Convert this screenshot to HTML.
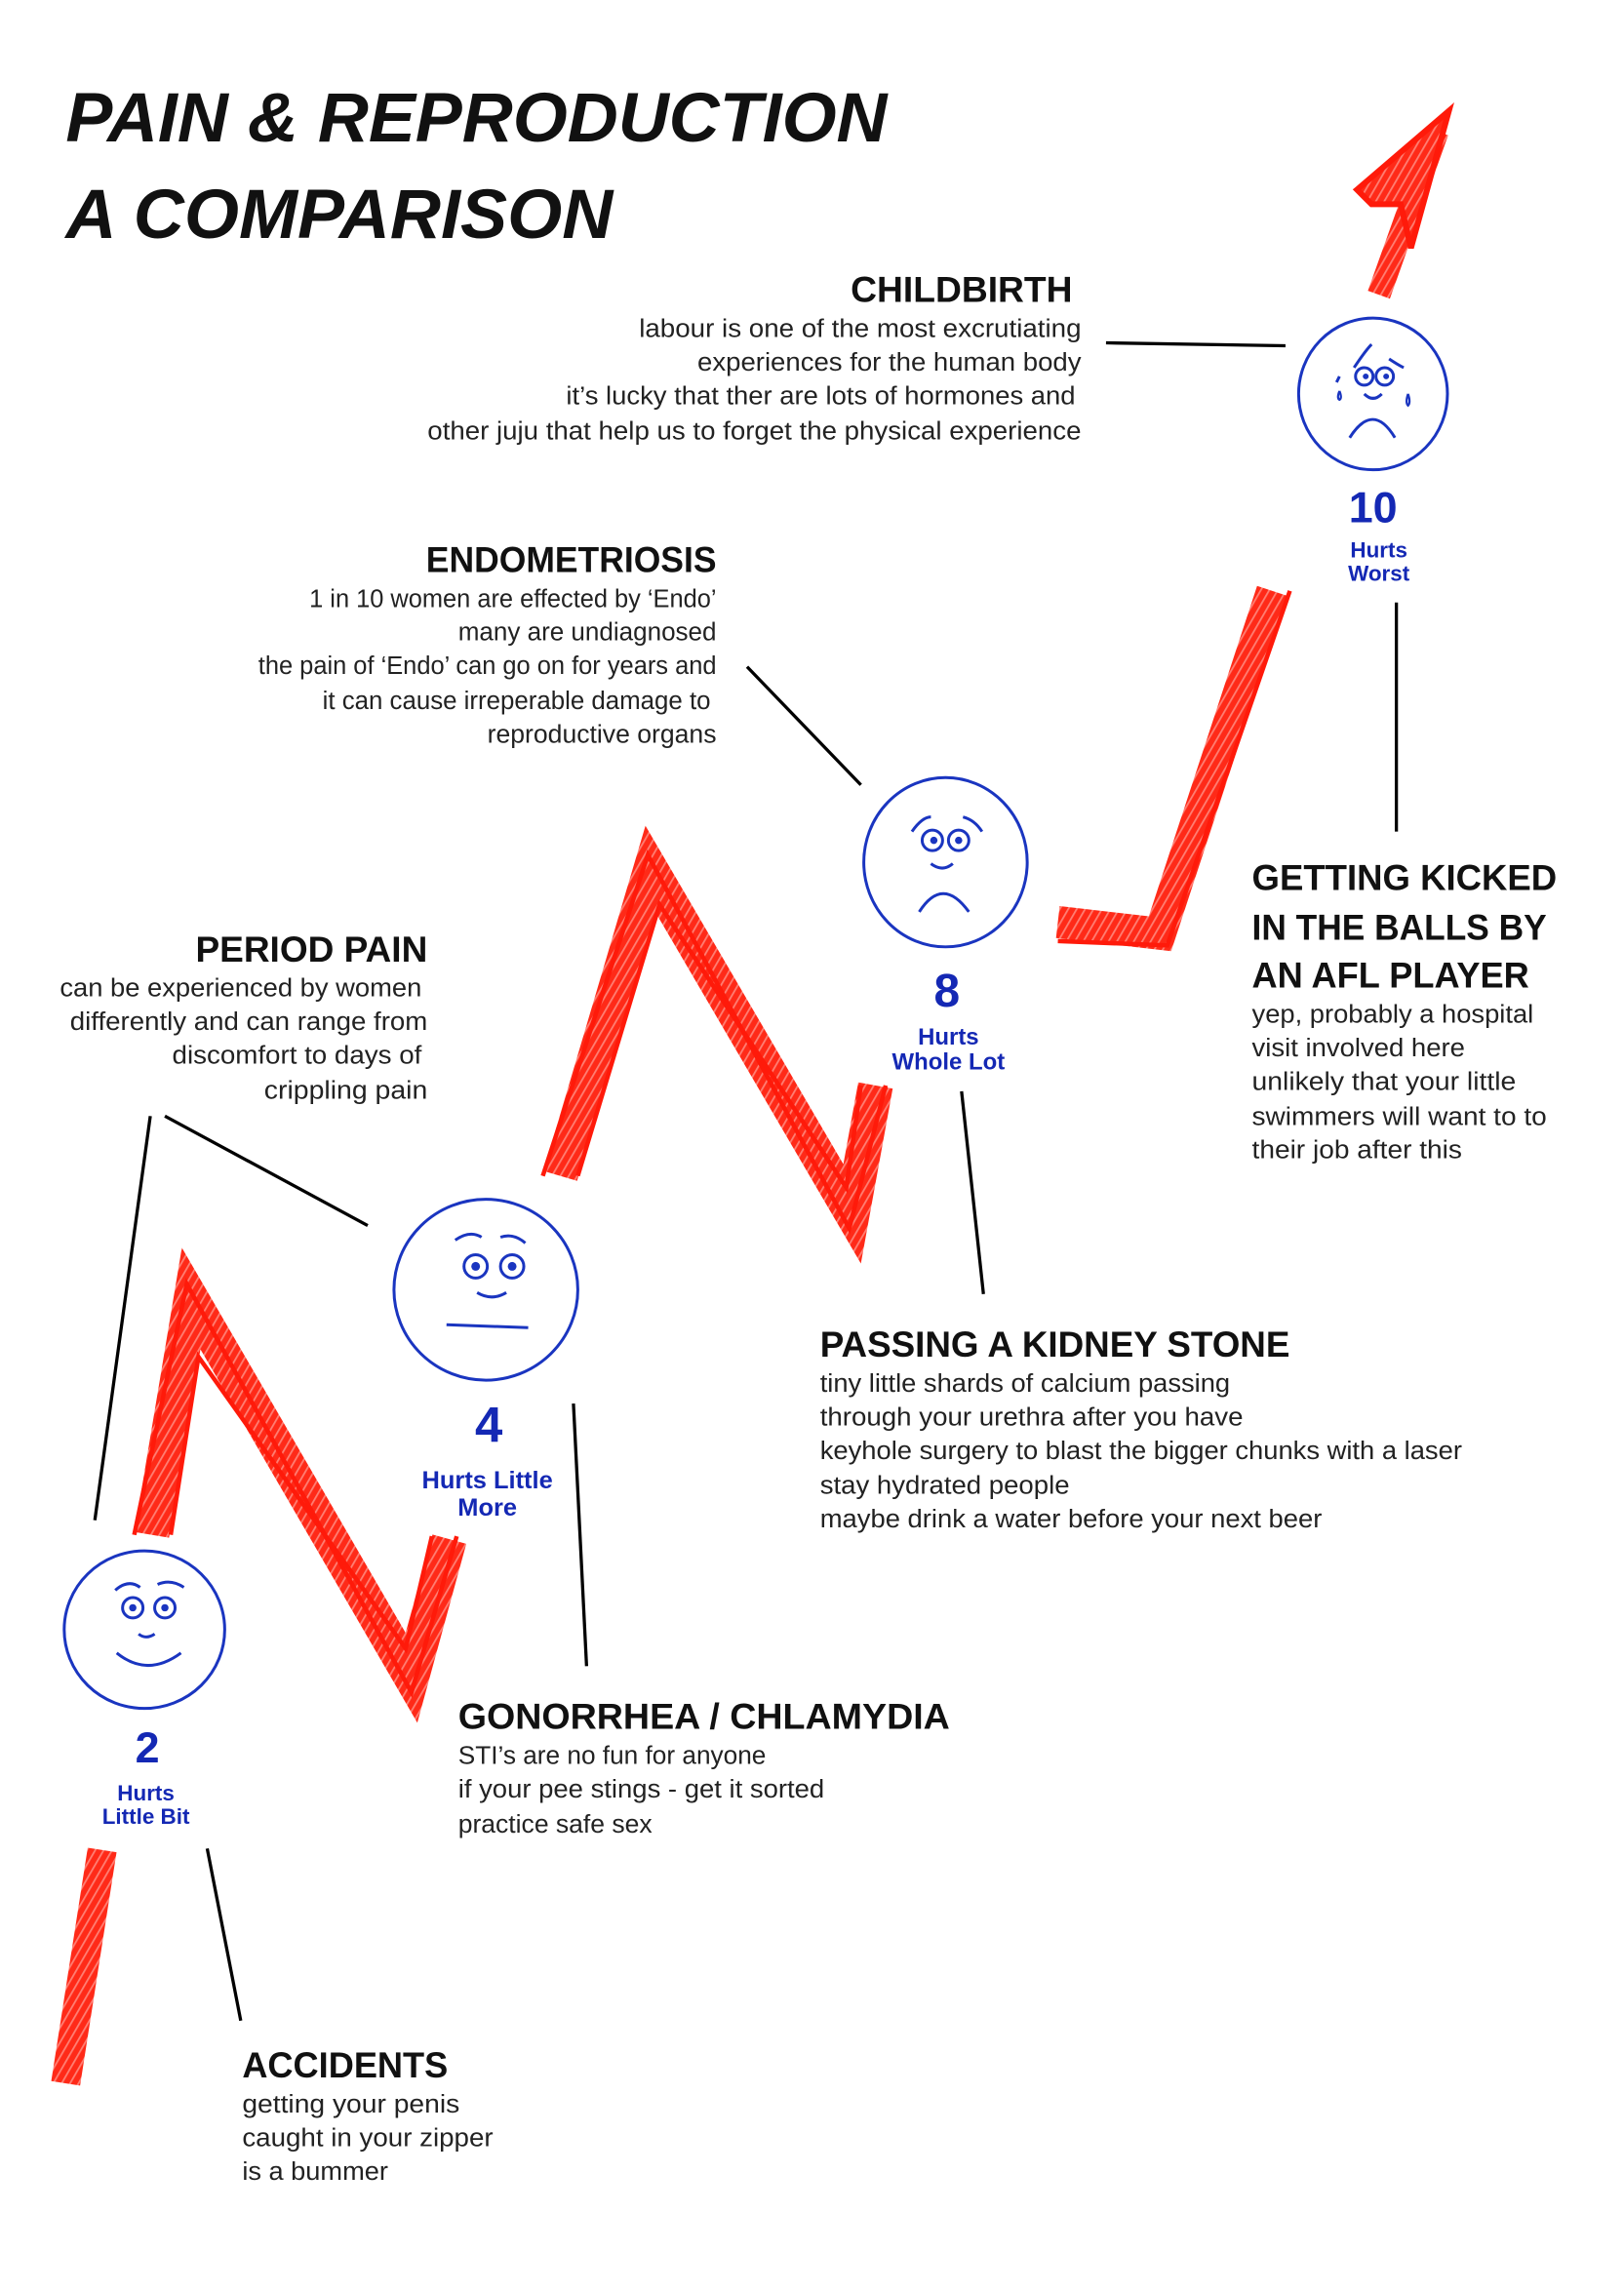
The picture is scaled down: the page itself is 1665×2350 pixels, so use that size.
<!DOCTYPE html>
<html><head><meta charset="utf-8"><style>
html,body{margin:0;padding:0;background:#fff;}
svg{display:block;}
.h{font-family:"Liberation Sans Narrow","Liberation Sans",sans-serif;font-weight:bold;fill:#111;}
.t{font-family:"Liberation Sans Narrow","Liberation Sans",sans-serif;fill:#222;font-size:17.5px;}
.b{font-family:"Liberation Sans",sans-serif;font-weight:bold;fill:#1428b4;}
.face{fill:none;stroke:#1a35c0;stroke-width:2;}
.ln{stroke:#000;stroke-width:2.2;}
</style></head><body>
<svg width="1665" height="2350" viewBox="0 0 1113 1571" preserveAspectRatio="none" xmlns="http://www.w3.org/2000/svg">
<defs>
<pattern id="hatch" width="5" height="5" patternUnits="userSpaceOnUse" patternTransform="rotate(30)">
<rect width="5" height="5" fill="#ff2a18"/><rect width="1.2" height="5" fill="#fff" opacity="0.4"/>
</pattern>
</defs>
<rect width="1113" height="1571" fill="#fff"/>
<text class="h" x="45" y="97" font-size="48" font-style="italic" textLength="563" lengthAdjust="spacingAndGlyphs">PAIN &amp; REPRODUCTION</text>
<text class="h" x="45" y="163" font-size="48" font-style="italic" textLength="375" lengthAdjust="spacingAndGlyphs">A COMPARISON</text>

<g fill="none" stroke-linejoin="miter">
<polyline points="45,1428 70,1268" stroke="url(#hatch)" stroke-width="20"/>
<polyline points="104,1052 131,890 282,1150 308,1055" stroke="url(#hatch)" stroke-width="24"/>
<polyline points="384,806 446,596 584,832 600,744" stroke="url(#hatch)" stroke-width="24"/>
<polyline points="372,806 444,586 582,842 607,744" stroke="#ff1a0a" stroke-width="3"/>
<polyline points="396,806 452,620 580,814 590,744" stroke="#ff1a0a" stroke-width="3"/>
<polyline points="725,632 795,640 872,405" stroke="url(#hatch)" stroke-width="22"/>
<polyline points="725,645 800,648 884,405" stroke="#ff1a0a" stroke-width="3"/>
<polyline points="945,202 985,90" stroke="url(#hatch)" stroke-width="16"/>
<polygon points="930,130 993,76 967,170 960,140 940,140" fill="url(#hatch)" stroke="#ff1a0a" stroke-width="4"/>
</g>
<g fill="none" stroke="#ff1a0a" stroke-width="3">
<polyline points="92,1052 128,880 282,1160 313,1053"/>
<polyline points="117,1052 136,930 278,1130 296,1053"/>
</g>

<line class="ln" x1="758" y1="235" x2="881" y2="237"/>
<line class="ln" x1="512" y1="457" x2="590" y2="538"/>
<line class="ln" x1="103" y1="765" x2="65" y2="1042"/>
<line class="ln" x1="113" y1="765" x2="252" y2="840"/>
<line class="ln" x1="393" y1="962" x2="402" y2="1142"/>
<line class="ln" x1="659" y1="748" x2="674" y2="887"/>
<line class="ln" x1="957" y1="413" x2="957" y2="570"/>
<line class="ln" x1="142" y1="1267" x2="165" y2="1385"/>

<ellipse class="face" cx="941" cy="270" rx="51" ry="52"/>
<circle class="face" cx="935" cy="258" r="6"/><circle class="face" cx="949" cy="258" r="6"/>
<circle cx="936" cy="258" r="2" fill="#1a35c0"/><circle cx="950" cy="258" r="2" fill="#1a35c0"/>
<path class="face" d="M928,252 Q936,240 940,236 M952,246 Q958,250 962,252 M935,270 Q941,276 947,270 M925,300 Q941,275 956,300 M918,258 L916,262"/>
<path d="M918,268 q-2,5 0,6 q2,-1 0,-6 M965,270 q-2,6 0,8 q2,-2 0,-8" fill="none" stroke="#1a35c0" stroke-width="1.5"/>
<text class="b" x="941" y="358" font-size="30" text-anchor="middle">10</text>
<text class="b" x="945" y="382" font-size="15" text-anchor="middle">Hurts</text>
<text class="b" x="945" y="398" font-size="15" text-anchor="middle">Worst</text>

<ellipse class="face" cx="648" cy="591" rx="56" ry="58"/>
<circle class="face" cx="639" cy="576" r="7"/><circle class="face" cx="657" cy="576" r="7"/>
<circle cx="640" cy="576" r="2.5" fill="#1a35c0"/><circle cx="657" cy="576" r="2.5" fill="#1a35c0"/>
<path class="face" d="M625,570 Q632,560 638,560 M660,560 Q668,562 673,570 M638,592 Q646,598 653,592 M630,625 Q646,600 664,625"/>
<text class="b" x="649" y="690" font-size="32" text-anchor="middle">8</text>
<text class="b" x="650" y="716" font-size="16" text-anchor="middle">Hurts</text>
<text class="b" x="650" y="733" font-size="16" text-anchor="middle">Whole Lot</text>

<ellipse class="face" cx="333" cy="884" rx="63" ry="62"/>
<circle class="face" cx="326" cy="868" r="8"/><circle class="face" cx="351" cy="868" r="8"/>
<circle cx="326" cy="868" r="3" fill="#1a35c0"/><circle cx="351" cy="868" r="3" fill="#1a35c0"/>
<path class="face" d="M312,850 Q322,843 330,848 M343,848 Q352,845 360,852 M327,886 Q337,892 347,886 M306,908 L362,910"/>
<text class="b" x="335" y="988" font-size="34" text-anchor="middle">4</text>
<text class="b" x="334" y="1020" font-size="17" text-anchor="middle">Hurts Little</text>
<text class="b" x="334" y="1039" font-size="17" text-anchor="middle">More</text>

<ellipse class="face" cx="99" cy="1117" rx="55" ry="54"/>
<circle class="face" cx="91" cy="1102" r="7"/><circle class="face" cx="113" cy="1102" r="7"/>
<circle cx="91" cy="1102" r="2.5" fill="#1a35c0"/><circle cx="113" cy="1102" r="2.5" fill="#1a35c0"/>
<path class="face" d="M79,1090 Q88,1082 96,1088 M108,1086 Q117,1082 126,1088 M80,1133 Q101,1150 124,1133 M95,1120 Q100,1124 106,1120"/>
<text class="b" x="101" y="1208" font-size="30" text-anchor="middle">2</text>
<text class="b" x="100" y="1234" font-size="15" text-anchor="middle">Hurts</text>
<text class="b" x="100" y="1250" font-size="15" text-anchor="middle">Little Bit</text>

<text class="h" x="735" y="207" font-size="25" text-anchor="end" textLength="152" lengthAdjust="spacingAndGlyphs">CHILDBIRTH</text>
<text class="t" x="741" y="231" text-anchor="end" textLength="303" lengthAdjust="spacingAndGlyphs">labour is one of the most excrutiating</text>
<text class="t" x="741" y="254" text-anchor="end" textLength="263" lengthAdjust="spacingAndGlyphs">experiences for the human body</text>
<text class="t" x="737" y="277" text-anchor="end" textLength="349" lengthAdjust="spacingAndGlyphs">it’s lucky that ther are lots of hormones and</text>
<text class="t" x="741" y="301" text-anchor="end" textLength="448" lengthAdjust="spacingAndGlyphs">other juju that help us to forget the physical experience</text>

<text class="h" x="491" y="392" font-size="25" text-anchor="end" textLength="199" lengthAdjust="spacingAndGlyphs">ENDOMETRIOSIS</text>
<text class="t" x="491" y="416" text-anchor="end" textLength="279" lengthAdjust="spacingAndGlyphs">1 in 10 women are effected by ‘Endo’</text>
<text class="t" x="491" y="439" text-anchor="end" textLength="177" lengthAdjust="spacingAndGlyphs">many are undiagnosed</text>
<text class="t" x="491" y="462" text-anchor="end" textLength="314" lengthAdjust="spacingAndGlyphs">the pain of ‘Endo’ can go on for years and</text>
<text class="t" x="487" y="486" text-anchor="end" textLength="266" lengthAdjust="spacingAndGlyphs">it can cause irreperable damage to</text>
<text class="t" x="491" y="509" text-anchor="end" textLength="157" lengthAdjust="spacingAndGlyphs">reproductive organs</text>

<text class="h" x="293" y="659" font-size="25" text-anchor="end" textLength="159" lengthAdjust="spacingAndGlyphs">PERIOD PAIN</text>
<text class="t" x="289" y="683" text-anchor="end" textLength="248" lengthAdjust="spacingAndGlyphs">can be experienced by women</text>
<text class="t" x="293" y="706" text-anchor="end" textLength="245" lengthAdjust="spacingAndGlyphs">differently and can range from</text>
<text class="t" x="289" y="729" text-anchor="end" textLength="171" lengthAdjust="spacingAndGlyphs">discomfort to days of</text>
<text class="t" x="293" y="753" text-anchor="end" textLength="112" lengthAdjust="spacingAndGlyphs">crippling pain</text>

<text class="h" x="858" y="610" font-size="25" textLength="209" lengthAdjust="spacingAndGlyphs">GETTING KICKED</text>
<text class="h" x="858" y="644" font-size="25" textLength="202" lengthAdjust="spacingAndGlyphs">IN THE BALLS BY</text>
<text class="h" x="858" y="677" font-size="25" textLength="190" lengthAdjust="spacingAndGlyphs">AN AFL PLAYER</text>
<text class="t" x="858" y="701" textLength="193" lengthAdjust="spacingAndGlyphs">yep, probably a hospital</text>
<text class="t" x="858" y="724" textLength="146" lengthAdjust="spacingAndGlyphs">visit involved here</text>
<text class="t" x="858" y="747" textLength="181" lengthAdjust="spacingAndGlyphs">unlikely that your little</text>
<text class="t" x="858" y="771" textLength="202" lengthAdjust="spacingAndGlyphs">swimmers will want to to</text>
<text class="t" x="858" y="794" textLength="144" lengthAdjust="spacingAndGlyphs">their job after this</text>

<text class="h" x="562" y="930" font-size="25" textLength="322" lengthAdjust="spacingAndGlyphs">PASSING A KIDNEY STONE</text>
<text class="t" x="562" y="954" textLength="281" lengthAdjust="spacingAndGlyphs">tiny little shards of calcium passing</text>
<text class="t" x="562" y="977" textLength="290" lengthAdjust="spacingAndGlyphs">through your urethra after you have</text>
<text class="t" x="562" y="1000" textLength="440" lengthAdjust="spacingAndGlyphs">keyhole surgery to blast the bigger chunks with a laser</text>
<text class="t" x="562" y="1024" textLength="171" lengthAdjust="spacingAndGlyphs">stay hydrated people</text>
<text class="t" x="562" y="1047" textLength="344" lengthAdjust="spacingAndGlyphs">maybe drink a water before your next beer</text>

<text class="h" x="314" y="1185" font-size="25" textLength="337" lengthAdjust="spacingAndGlyphs">GONORRHEA / CHLAMYDIA</text>
<text class="t" x="314" y="1209" textLength="211" lengthAdjust="spacingAndGlyphs">STI’s are no fun for anyone</text>
<text class="t" x="314" y="1232" textLength="251" lengthAdjust="spacingAndGlyphs">if your pee stings - get it sorted</text>
<text class="t" x="314" y="1256" textLength="133" lengthAdjust="spacingAndGlyphs">practice safe sex</text>

<text class="h" x="166" y="1424" font-size="25" textLength="141" lengthAdjust="spacingAndGlyphs">ACCIDENTS</text>
<text class="t" x="166" y="1448" textLength="149" lengthAdjust="spacingAndGlyphs">getting your penis</text>
<text class="t" x="166" y="1471" textLength="172" lengthAdjust="spacingAndGlyphs">caught in your zipper</text>
<text class="t" x="166" y="1494" textLength="100" lengthAdjust="spacingAndGlyphs">is a bummer</text>
</svg>
</body></html>
